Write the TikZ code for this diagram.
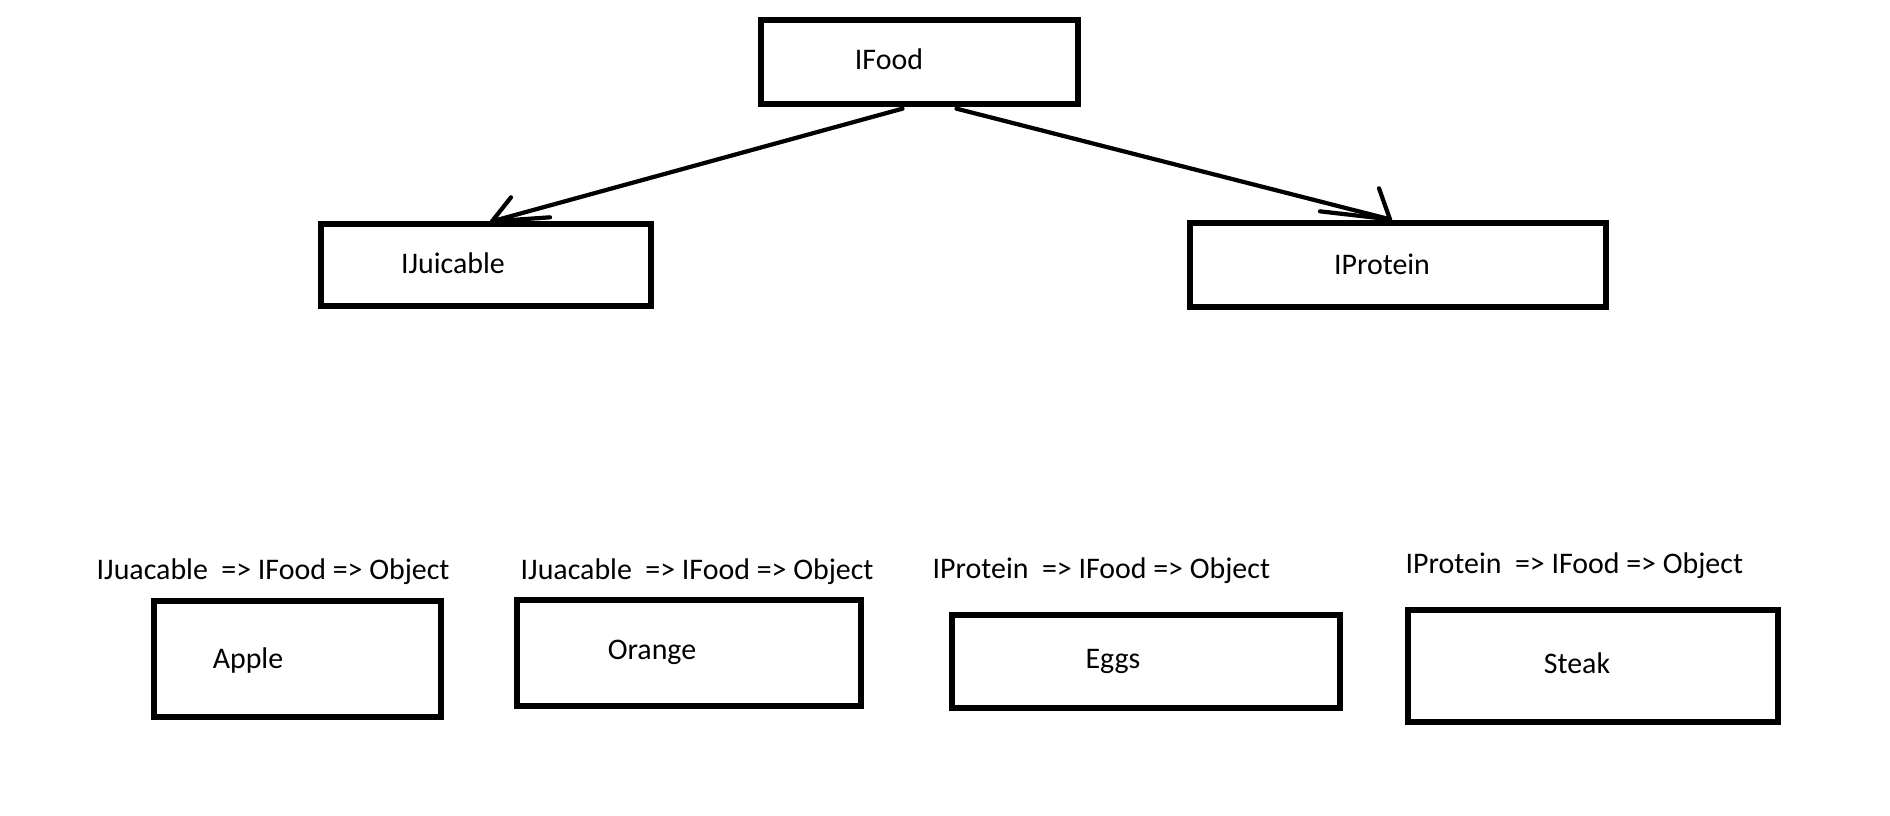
\documentclass[tikz,border=0pt]{standalone}
\usepackage{fontspec}
\setmainfont{Carlito}
\usetikzlibrary{calc}
\begin{document}
\begin{tikzpicture}[x=0.01cm,y=-0.01cm,
	box/.style={draw,line width=1.5pt,inner sep=0pt},
	link/.style={line width=1.2pt,line cap=round},
	txt/.style={font=\fontsize{8.5}{10}\selectfont,inner sep=0pt},
	chain/.style={txt,anchor=west}]
	\useasboundingbox[fill=white] (0,0) rectangle (1890,816);
	% interfaces
	\node[box,minimum width=3.17cm,minimum height=0.84cm] (food) at (919.5,62) {};
	\node[box,minimum width=3.30cm,minimum height=0.82cm] (juice) at (486,265) {};
	\node[box,minimum width=4.16cm,minimum height=0.84cm] (protein) at (1398,265) {};
	\node[txt] at (889,59) {IFood};
	\node[txt] at (453,263) {IJuicable};
	\node[txt] at (1382,264) {IProtein};
	% arrows, drawn by hand
	\coordinate (jtip) at ($(juice.north)+(6,0)$);
	\coordinate (ptip) at ($(protein.north)+(-8,-1)$);
	\draw[link] ($(food.south)+(-17,2)$) -- (jtip);
	\draw[link] (jtip) -- ++(19,-24) (jtip) -- ++(58,-4);
	\draw[link] ($(food.south)+(37,2)$) -- (ptip);
	\draw[link] (ptip) -- ++(-11,-31) (ptip) -- ++(-70,-8);
	% classes
	\node[box,minimum width=2.87cm,minimum height=1.16cm] (apple) at (297.5,659) {};
	\node[box,minimum width=3.44cm,minimum height=1.06cm] (orange) at (689,653) {};
	\node[box,minimum width=3.88cm,minimum height=0.93cm] (eggs) at (1146,661.5) {};
	\node[box,minimum width=3.70cm,minimum height=1.12cm] (steak) at (1593,666) {};
	\node[txt] at (248,661) {Apple};
	\node[txt] at (652,652) {Orange};
	\node[txt] at (1113,661) {Eggs};
	\node[txt] at (1577,663) {Steak};
	\node[chain] (ca) at (96,572) {IJuacable\ \ => IFood => Object};
	\node[chain] (co) at (520,572) {IJuacable\ \ => IFood => Object};
	\node[chain] (ce) at (932,571) {IProtein\ \ => IFood => Object};
	\node[chain] (cs) at (1405,566) {IProtein\ \ => IFood => Object};
\end{tikzpicture}
\end{document}
